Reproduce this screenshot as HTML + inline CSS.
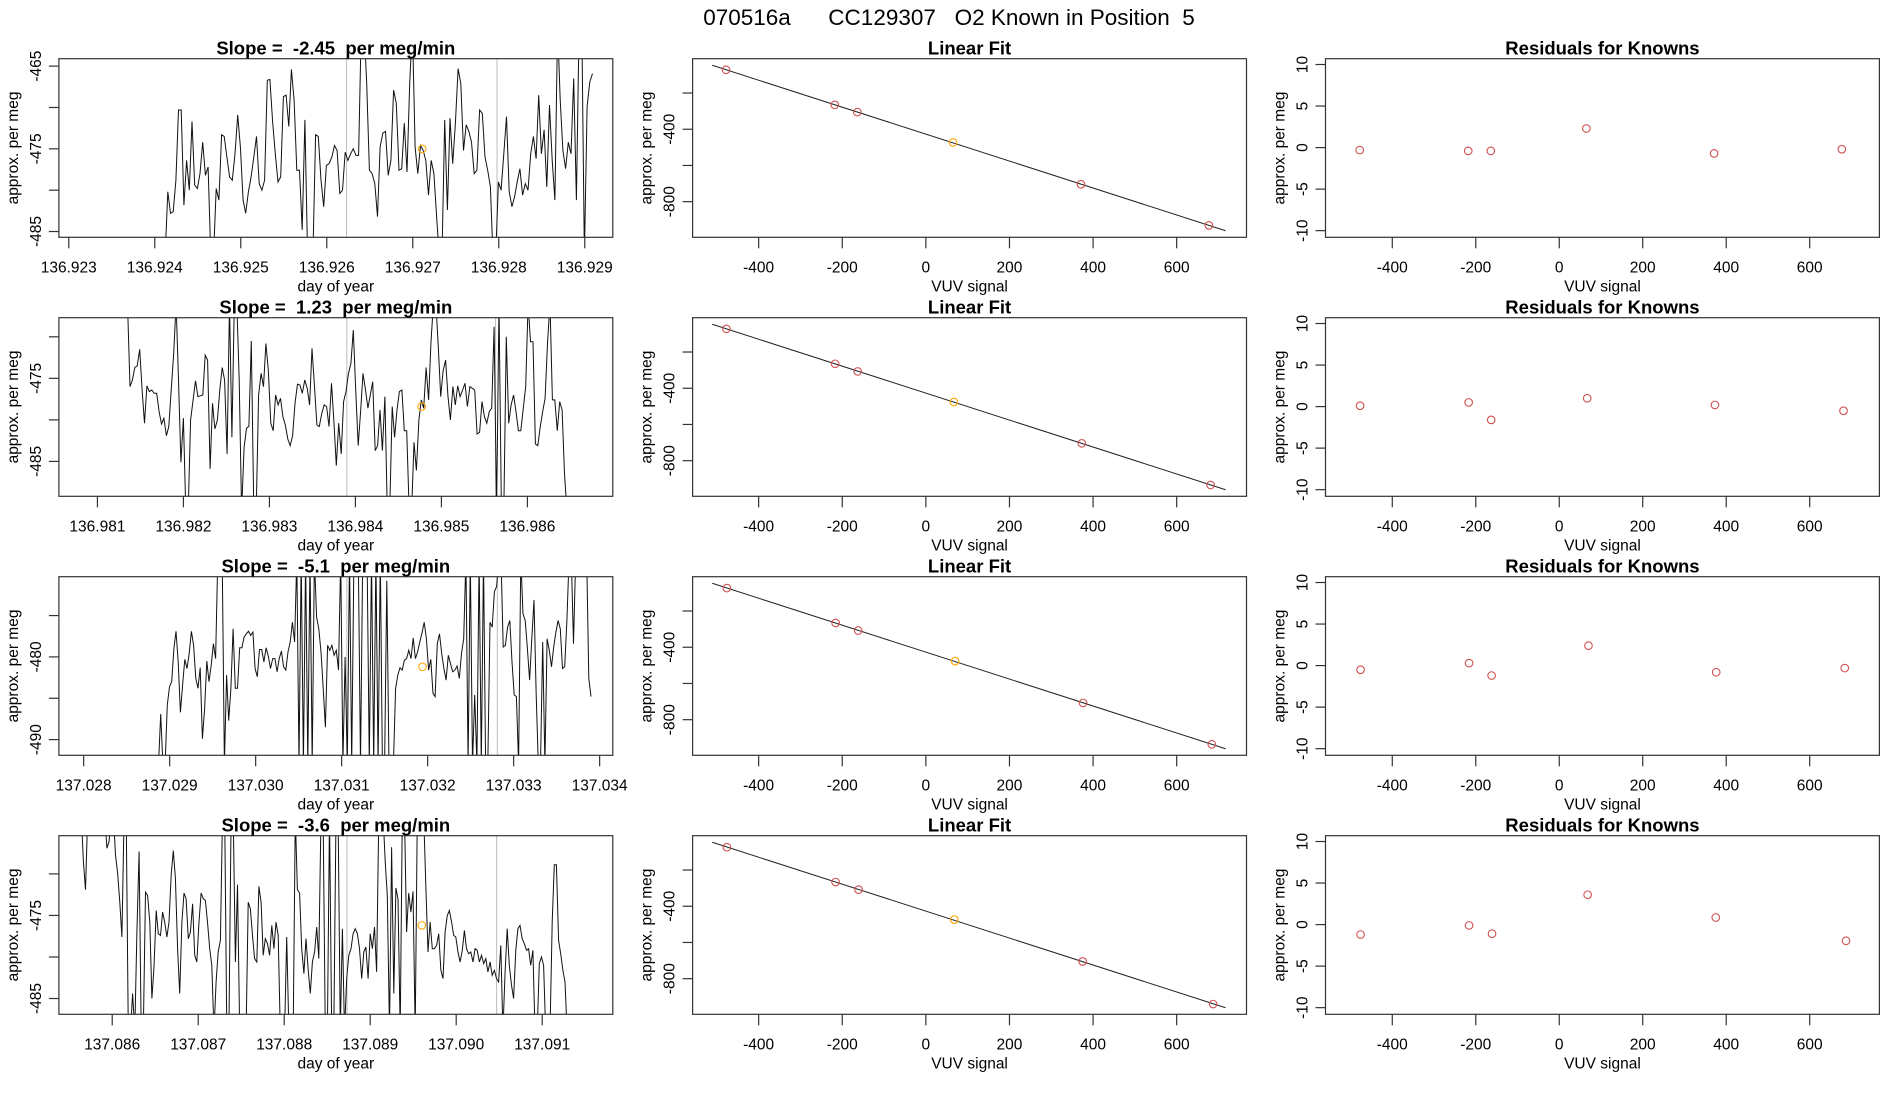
<!DOCTYPE html>
<html><head><meta charset="utf-8"><style>
html,body{margin:0;padding:0;background:#fff;}
svg{display:block;font-family:"Liberation Sans",Arial,sans-serif;}
text{white-space:pre;}
</style></head><body>
<svg id="fig" width="1900" height="1100" viewBox="0 0 1900 1100" xmlns="http://www.w3.org/2000/svg">
<rect x="0" y="0" width="1900" height="1100" fill="#fff"/>
<text x="949" y="25" font-size="22.5" text-anchor="middle">070516a      CC129307   O2 Known in Position  5</text>
</svg>
<script>
// ---------- data ----------
const rowTitles = ["Slope =  -2.45  per meg/min","Slope =  1.23  per meg/min","Slope =  -5.1  per meg/min","Slope =  -3.6  per meg/min"];
const seriesStart = [136.92412,136.98135,137.02887,137.08564];
const seriesEnd = [136.92909,136.98646,137.03390,137.09129];
const series1 = [-488,-480.2,-482.8,-482.6,-478.8,-470.3,-470.3,-481.8,-476.4,-480.0,-471.7,-479.4,-479.8,-478.0,-474.2,-478.2,-477.2,-488,-488,-479.8,-481.2,-473.3,-473.5,-476.0,-478.4,-478.8,-475.6,-470.9,-474.8,-481.2,-482.8,-480.2,-478.4,-476.0,-473.5,-479.2,-480.0,-478.8,-466.7,-466.6,-471.7,-475.6,-479.0,-478.4,-468.7,-468.5,-472.3,-465.4,-469.1,-477.6,-477.6,-484.8,-471.5,-488,-488,-488,-473.3,-473.5,-478.8,-482.0,-477.0,-476.8,-476.0,-474.6,-475.2,-480.4,-480.0,-475.4,-476.4,-475.6,-475.0,-475.8,-475.8,-460,-460,-467.1,-477.6,-478.0,-479.2,-483.2,-474.8,-473.1,-472.9,-478.2,-476.4,-467.9,-469.5,-477.6,-477.4,-471.9,-477.8,-467.1,-460,-474.8,-478.0,-474.6,-475.2,-476.4,-480.6,-476.4,-478.0,-483.2,-488,-488,-471.5,-482.4,-471.3,-476.8,-471.9,-465.3,-467.1,-475.2,-472.1,-472.9,-474.2,-478.0,-477.6,-470.3,-470.7,-476.0,-477.6,-479.6,-488,-488,-479.0,-480.0,-475.6,-471.1,-480.2,-482.0,-480.8,-479.0,-477.4,-480.6,-479.2,-480.0,-475.6,-473.5,-476.2,-468.5,-475.6,-472.7,-479.6,-469.7,-476.4,-481.2,-460,-469.1,-475.2,-477.4,-474.2,-475.6,-466.5,-481.2,-460,-460,-488,-469.9,-466.9,-465.9];
const series2 = [-466,-476.0,-475.2,-473.7,-473.5,-471.5,-476.4,-480.4,-475.9,-476.6,-476.4,-476.8,-476.8,-479.0,-480.5,-479.8,-481.9,-480.8,-476.4,-472.0,-466,-475.2,-485.1,-479.8,-491,-491,-480.0,-477.6,-475.3,-477.2,-477.1,-477.0,-472.2,-472.8,-485.9,-478.0,-481.1,-480.0,-476.4,-473.7,-475.2,-484.1,-466,-482.1,-466,-466,-475.2,-491,-483.3,-481.0,-480.8,-470.5,-491,-491,-477.0,-474.4,-476.0,-470.8,-474.0,-480.4,-481.3,-477.0,-478.2,-477.4,-479.6,-480.6,-482.3,-483.1,-481.9,-478.0,-475.7,-475.8,-476.8,-475.2,-476.2,-478.2,-471.4,-476.0,-480.6,-480.8,-479.2,-478.2,-478.4,-480.8,-475.6,-480.2,-485.5,-480.4,-484.1,-477.8,-476.6,-474.4,-473.2,-469.2,-476.4,-483.1,-479.0,-474.4,-476.4,-478.6,-477.0,-475.4,-483.7,-483.1,-478.8,-483.7,-477.2,-491,-491,-478.4,-482.1,-478.8,-476.6,-476.4,-481.3,-481.3,-491,-491,-482.7,-486.1,-480.0,-477.6,-478.6,-473.7,-477.6,-470.6,-466,-466,-471.2,-477.2,-474.1,-472.8,-477.2,-480.0,-476.0,-478.2,-475.9,-477.2,-476.4,-475.6,-478.4,-476.0,-476.2,-476.4,-481.7,-481.5,-477.8,-479.6,-480.4,-479.0,-478.6,-468.8,-491,-466,-491,-491,-470.0,-480.4,-478.2,-477.0,-479.0,-481.3,-481.3,-478.6,-476.0,-466,-470.6,-470.6,-482.9,-483.1,-480.8,-479.0,-477.4,-470.8,-466,-477.6,-477.6,-481.3,-477.8,-478.8,-486.5,-491];
const series3 = [-493,-486.9,-493,-493,-485.8,-483.6,-483.0,-479.0,-476.9,-480.6,-486.7,-483.4,-480.3,-481.4,-479.6,-476.9,-478.6,-482.6,-483.8,-481.3,-489.9,-486.3,-480.5,-483.0,-481.0,-478.4,-480.2,-468,-468,-468,-493,-482.2,-487.7,-483.8,-476.6,-483.8,-483.8,-478.9,-478.9,-477.6,-477.2,-476.9,-477.4,-477.0,-481.4,-482.4,-479.1,-479.1,-480.6,-478.9,-479.9,-481.4,-480.2,-480.2,-481.8,-480.2,-479.3,-481.2,-481.6,-479.4,-478.2,-475.8,-478.2,-468,-493,-468,-493,-468,-493,-468,-493,-468,-475.2,-476.6,-479.4,-483.8,-488.5,-478.6,-479.2,-478.6,-479.8,-479.2,-481.6,-468,-493,-480.0,-493,-468,-493,-468,-468,-468,-493,-468,-468,-468,-493,-468,-493,-468,-493,-468,-493,-493,-470.8,-493,-493,-493,-483.8,-482.2,-481.3,-481.6,-480.4,-480.2,-479.2,-480.2,-477.7,-480.2,-479.4,-478.2,-477.1,-475.8,-477.8,-481.6,-480.3,-484.4,-484.8,-478.4,-477.2,-479.6,-481.4,-482.8,-479.8,-480.8,-481.8,-481.6,-481.1,-482.6,-479.6,-477.8,-468,-493,-468,-493,-484.6,-493,-468,-493,-468,-493,-493,-475.8,-476.4,-472.1,-471.5,-468,-468,-478.8,-478.6,-476.4,-475.6,-480.6,-484.6,-484.8,-493,-468,-474.8,-475.6,-479.0,-482.8,-477.8,-473.1,-484.2,-493,-493,-478.2,-493,-477.8,-479.2,-481.2,-478.8,-477.0,-475.6,-476.6,-481.4,-481.2,-475.6,-468,-468,-478.4,-468,-468,-468,-468,-468,-468,-482.6,-484.8];
const series4 = [-463,-468.5,-471.9,-463,-463,-463,-463,-463,-463,-463,-463,-463,-466.9,-466.1,-463,-463,-467.7,-469.9,-473.4,-477.6,-463,-463,-489,-489,-484.4,-489,-477.0,-467.3,-489,-489,-472.2,-472.6,-475.8,-485.0,-481.2,-474.4,-477.2,-477.4,-474.6,-475.8,-477.6,-475.8,-470.1,-467.2,-470.5,-479.0,-484.4,-475.8,-472.3,-473.0,-477.8,-477.0,-473.6,-479.8,-480.6,-475.8,-472.3,-473.0,-473.2,-475.8,-479.0,-481.0,-489,-483.0,-479.4,-478.0,-463,-463,-489,-489,-463,-463,-480.6,-471.3,-489,-489,-489,-489,-473.4,-474.2,-477.4,-480.2,-480.6,-471.5,-473.4,-479.8,-477.8,-478.4,-479.8,-476.2,-479.0,-475.8,-477.4,-489,-489,-489,-477.6,-489,-489,-489,-463,-471.9,-472.3,-479.0,-482.0,-477.8,-481.4,-484.4,-480.6,-479.4,-476.4,-480.2,-463,-463,-489,-489,-463,-489,-489,-463,-463,-489,-476.6,-489,-482.6,-479.8,-479.0,-477.2,-476.6,-477.2,-479.0,-482.6,-479.4,-478.8,-482.6,-477.2,-479.0,-476.4,-481.8,-463,-463,-463,-468.5,-472.6,-489,-466.8,-484.4,-471.7,-473.0,-489,-463,-463,-477.0,-472.3,-474.6,-472.1,-489,-463,-463,-463,-463,-471.7,-479.4,-475.8,-479.0,-479.0,-478.6,-477.2,-481.6,-482.6,-477.0,-475.0,-474.4,-475.8,-477.4,-477.6,-479.4,-480.6,-479.2,-476.8,-479.0,-479.6,-479.4,-480.6,-479.0,-479.2,-480.6,-479.8,-480.8,-480.2,-481.8,-480.6,-482.2,-481.6,-482.6,-483.0,-478.6,-489,-481.8,-476.6,-481.0,-483.4,-485.0,-479.2,-476.6,-476.2,-477.8,-478.4,-479.2,-479.0,-481.0,-479.2,-489,-489,-480.8,-480.0,-481.0,-489,-489,-489,-475.8,-468.9,-468.9,-478.0,-479.6,-481.6,-483.0,-489];
const xTicks1 = [136.923,136.924,136.925,136.926,136.927,136.928,136.929];
const xTicks2 = [136.981,136.982,136.983,136.984,136.985,136.986];
const xTicks3 = [137.028,137.029,137.030,137.031,137.032,137.033,137.034];
const xTicks4 = [137.086,137.087,137.088,137.089,137.090,137.091];
const yTicksLeft1 = [-465,-470,-475,-480,-485];
const yTicksLeft2 = [-470,-475,-480,-485];
const yTicksLeft3 = [-475,-480,-485,-490];
const yTicksLeft4 = [-470,-475,-480,-485];
const yLabelsLeft1 = [-465,-475,-485];
const yLabelsLeft2 = [-475,-485];
const yLabelsLeft3 = [-480,-490];
const yLabelsLeft4 = [-475,-485];
const grayLines = [[136.92623,136.92798],[136.98390,136.98563],[137.03106,137.03281],[137.08873,137.09047]];
const orangeT = [136.92711,136.98477,137.03194,137.08960];
const orangeV = [-475.0,-478.4,-481.2,-476.2];
const knownsX1 = [-478,-218,-164,65,371,677];
const knownsX2 = [-477,-217,-163,67,373,681];
const knownsX3 = [-476,-216,-162,70,376,684];
const knownsX4 = [-476,-216,-161,68,375,687];
const resid1 = [-0.3,-0.4,-0.4,2.3,-0.7,-0.2];
const resid2 = [0.1,0.5,-1.6,1.0,0.2,-0.5];
const resid3 = [-0.5,0.3,-1.2,2.4,-0.8,-0.3];
const resid4 = [-1.2,-0.1,-1.1,3.6,0.85,-1.95];
const fitSlope = [-0.744,-0.744,-0.744,-0.744];
const fitIntercept = [-427,-427,-427,-427];
const fitXRange = [-511,717];
const midYTicks = [-200,-400,-600,-800];
const midYLabels = [-400,-800];
const midXTicks = [-400,-200,0,200,400,600];
const resYTicks = [10,5,0,-5,-10];
const resXTicks = [-400,-200,0,200,400,600];

// ---------- axis config ----------
const leftXMin = [136.922885,136.980552,137.027712,137.08538];
const leftXSpan = 0.006441;
const leftYDom = [[-485.7,-464.1],[-489.2,-467.7],[-491.9,-470.3],[-486.9,-465.4]];
const midXDom = [-558,767], midYDom = [-996.7,-10.5];
const resXDom = [-560,767], resYDom = [-10.8,10.7];

const allSeries=[series1,series2,series3,series4];
const allXTicks=[xTicks1,xTicks2,xTicks3,xTicks4];
const allYTicks=[yTicksLeft1,yTicksLeft2,yTicksLeft3,yTicksLeft4];
const allYLabels=[yLabelsLeft1,yLabelsLeft2,yLabelsLeft3,yLabelsLeft4];
const allKX=[knownsX1,knownsX2,knownsX3,knownsX4];
const allRes=[resid1,resid2,resid3,resid4];

const NS="http://www.w3.org/2000/svg";
const svg=document.getElementById('fig');
const colX=[58.9,692.6,1325.5], PW=553.9, PH=178.6;
function rowTop(i){return 58.7+259*i;}
function mk(tag,attrs,parent){const e=document.createElementNS(NS,tag);for(const k in attrs)e.setAttribute(k,attrs[k]);(parent||svg).appendChild(e);return e;}
function fmtNum(v){return v<0?'-'+Math.abs(v):String(v);}

function axes(g,x0,y0,sx,sy,xt,xl,yt,yl,xtitle,title,prefix){
  const b=mk('rect',{x:x0,y:y0,width:PW,height:PH,fill:'none',stroke:'#333','stroke-width':1.2},g);
  
  
  xt.forEach(v=>{const X=sx(v);const t=mk('line',{x1:X,x2:X,y1:y0+PH,y2:y0+PH+11,stroke:'#333','stroke-width':1.2},g);
    
    });
  xl.forEach(v=>{const X=sx(v);const t=mk('text',{x:X,y:y0+PH+35,'font-size':15.5,'text-anchor':'middle'},g);t.textContent=(typeof v==='number'&&Math.abs(v)>100&&v%1!==0)?v.toFixed(3):fmtNum(v);
    
    });
  yt.forEach(v=>{const Y=sy(v);const t=mk('line',{x1:x0-10,x2:x0,y1:Y,y2:Y,stroke:'#333','stroke-width':1.2},g);
    
    });
  yl.forEach(v=>{const Y=sy(v);const X=x0-18;const t=mk('text',{x:X,y:Y,'font-size':15.5,'text-anchor':'middle',transform:`rotate(-90 ${X} ${Y})`},g);t.textContent=fmtNum(v);
    
    });
  const xa=mk('text',{x:x0+PW/2,y:y0+PH+54,'font-size':15.5,'text-anchor':'middle'},g);xa.textContent=xtitle;
  
  
  const yx=x0-41, yy=y0+PH/2;
  const ya=mk('text',{x:yx,y:yy,'font-size':15.5,'text-anchor':'middle',transform:`rotate(-90 ${yx} ${yy})`},g);ya.textContent='approx. per meg';
  
  
  const tt=mk('text',{x:x0+PW/2,y:y0-4,'font-size':18.5,'font-weight':'bold','text-anchor':'middle'},g);tt.textContent=title;
  
  
}

for(let r=0;r<4;r++){
  const y0=rowTop(r);
  {
    const x0=colX[0];
    const g=mk('g',{});
    
    
    const sx=t=>x0+(t-leftXMin[r])/leftXSpan*PW;
    const yd=leftYDom[r];
    const sy=v=>y0+PH-(v-yd[0])/(yd[1]-yd[0])*PH;
    const cp=mk('clipPath',{id:'clip'+r},g);mk('rect',{x:x0,y:y0,width:PW,height:PH},cp);
    const inner=mk('g',{'clip-path':`url(#clip${r})`},g);
    grayLines[r].forEach(t=>{const l=mk('line',{x1:sx(t),x2:sx(t),y1:y0,y2:y0+PH,stroke:'#bdbdbd','stroke-width':1},inner);
      
      });
    const s=allSeries[r], n=s.length, t0=seriesStart[r], t1=seriesEnd[r];
    let d='';
    s.forEach((v,i)=>{const t=t0+(t1-t0)*i/(n-1);d+=(i?'L':'M')+sx(t).toFixed(1)+' '+sy(v).toFixed(1);});
    const p=mk('path',{d:d,fill:'none',stroke:'#111','stroke-width':1},inner);
    
    
    const oc=mk('circle',{cx:sx(orangeT[r]),cy:sy(orangeV[r]),r:3.8,fill:'none',stroke:'#ffa500','stroke-width':1.1},g);
    
    
    axes(g,x0,y0,sx,sy,allXTicks[r],allXTicks[r],allYTicks[r],allYLabels[r],'day of year',rowTitles[r],'timeseries');
  }
  {
    const x0=colX[1];
    const g=mk('g',{});
    
    
    const sx=v=>x0+(v-midXDom[0])/(midXDom[1]-midXDom[0])*PW;
    const sy=v=>y0+PH-(v-midYDom[0])/(midYDom[1]-midYDom[0])*PH;
    const a=fitIntercept[r], b=fitSlope[r];
    const l=mk('line',{x1:sx(fitXRange[0]),y1:sy(a+b*fitXRange[0]),x2:sx(fitXRange[1]),y2:sy(a+b*fitXRange[1]),stroke:'#222','stroke-width':1},g);
    
    
    allKX[r].forEach((xv,i)=>{const yv=a+b*xv+allRes[r][i];
      const c=mk('circle',{cx:sx(xv),cy:sy(yv),r:3.8,fill:'none',stroke:i===3?'#ffa500':'#d05050','stroke-width':1.1},g);
      
      });
    axes(g,x0,y0,sx,sy,midXTicks,midXTicks,midYTicks,midYLabels,'VUV signal','Linear Fit','linear-fit');
  }
  {
    const x0=colX[2];
    const g=mk('g',{});
    
    
    const sx=v=>x0+(v-resXDom[0])/(resXDom[1]-resXDom[0])*PW;
    const sy=v=>y0+PH-(v-resYDom[0])/(resYDom[1]-resYDom[0])*PH;
    allKX[r].forEach((xv,i)=>{
      const c=mk('circle',{cx:sx(xv),cy:sy(allRes[r][i]),r:3.8,fill:'none',stroke:'#d05050','stroke-width':1.1},g);
      
      });
    axes(g,x0,y0,sx,sy,resXTicks,resXTicks,resYTicks,resYTicks,'VUV signal','Residuals for Knowns','residuals');
  }
}
</script>
</body></html>
